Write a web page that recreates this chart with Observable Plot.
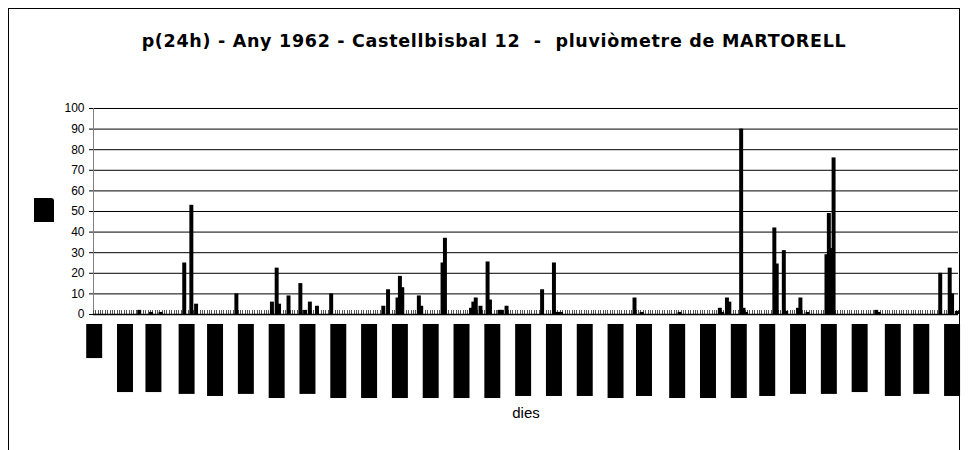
<!DOCTYPE html>
<html>
<head>
<meta charset="utf-8">
<script src="https://cdn.jsdelivr.net/npm/d3@7"></script>
<script src="https://cdn.jsdelivr.net/npm/@observablehq/plot@0.6"></script>
<style>
  html, body { margin: 0; padding: 0; background: #fff; overflow: hidden; }
  #wrap { position: relative; width: 968px; height: 450px; }
  #frame { position: absolute; left: 8px; top: 8px; width: 952px; height: 500px; border: 1px solid #000; box-sizing: border-box; }
  #title { position: relative; height: 70px; box-sizing: border-box; padding-top: 31px; text-align: center; font-family: "DejaVu Sans", sans-serif; font-weight: bold; font-size: 17.5px; letter-spacing: 0.7px; line-height: 20px; color: #000; padding-left: 20px; }
  #ylab { position: absolute; left: 34px; top: 198px; width: 20px; height: 24px; background: #000; border-top-right-radius: 3px; }
  #chart { position: relative; }
</style>
</head>
<body>
<div id="wrap">
  <div id="frame"></div>
  <div id="title">p(24h) - Any 1962 - Castellbisbal 12&nbsp; -&nbsp; pluviòmetre de MARTORELL</div>
  <div id="chart"></div>
  <div id="ylab" aria-label="mm"></div>
</div>
<script>
// Daily precipitation (mm), 1962 — only rainy days listed, all other days are 0
const rainDays = [20, 25, 29, 39, 42, 44, 61, 76, 78, 79, 83, 88, 90, 92, 95, 101,
  123, 125, 129, 130, 131, 138, 139, 148, 149, 160, 161, 162, 164, 167, 168, 172, 173, 175,
  190, 195, 196, 197, 198, 229, 232, 248, 265, 266, 268, 269, 274, 275, 276,
  288, 289, 292, 293, 298, 299, 302, 310, 311, 312, 313, 331, 332, 358, 362, 363, 365];
const rainMm = [2, 1, 1, 25, 53, 5, 10, 6, 22.5, 5, 9, 15, 2, 6, 4, 10,
  4, 12, 8, 18.5, 13, 9, 4, 25, 37, 3, 6, 8, 4, 25.5, 7, 2, 2, 4,
  12, 25, 1, 1, 1, 8, 1, 1, 3, 1, 8, 6, 90, 3, 1,
  42, 24.5, 31, 1.5, 3, 8, 1, 29, 49, 32, 76, 2, 1, 20, 22.5, 10, 1.5];

// y-axis ticks
const yTicks = [0, 10, 20, 30, 40, 50, 60, 70, 80, 90, 100];

// x tick labels (rendered as solid blocks in the original): day position and extent below the axis
const labelDays = [1, 14, 26, 40, 52, 65, 78, 91, 104, 117, 130, 143, 156, 169, 182,
  195, 208, 221, 233, 247, 260, 273, 285, 298, 311, 324, 338, 350, 363];
const labelExtent = [21.4, 37.9, 37.9, 38.8, 39.8, 38.8, 40.8, 38.8, 40.8, 40.8, 40.8, 40.8, 40.8, 40.8, 39.8,
  39.8, 39.8, 40.8, 39.8, 40.8, 40.8, 40.8, 39.8, 38.8, 38.8, 37.9, 39.8, 38.8, 39.8];

const nDays = 365;
const rain = new Map(rainDays.map((d, i) => [d, rainMm[i]]));
const table = d3.range(1, nDays + 1).map(d => ({day: d, mm: rain.get(d) ?? 0}));
const labels = labelDays.map((d, i) => ({day: d, extent: labelExtent[i]}));

const chart = Plot.plot({
  width: 968,
  height: 380,
  marginLeft: 93,
  marginRight: 10,
  marginTop: 38,
  marginBottom: 49.5,
  x: {domain: [0, nDays], axis: null},
  y: {domain: [-42, 100], axis: null},
  style: {fontFamily: "'Liberation Sans', Arial, sans-serif", fontSize: "12px", color: "#000", background: "transparent"},
  marks: [
    Plot.ruleY(yTicks, {y: d => d, x1: 0, x2: nDays, stroke: "#000", strokeWidth: 1, insetLeft: -4}),
    Plot.text(yTicks, {x: 0, y: d => d, text: d => String(d), textAnchor: "end", dx: -9, fontSize: 12, fill: "#000"}),
    Plot.ruleX([0], {x: d => d, y1: 0, y2: 100, stroke: "#808080"}),
    Plot.ruleX(d3.range(0, nDays + 1), {x: d => d, y1: 0, y2: 2, stroke: "#555", shapeRendering: "crispEdges"}),
    Plot.rect(table.filter(d => d.mm > 0), {x1: d => d.day - 1, x2: d => d.day, y1: 0, y2: "mm", fill: "#000", insetLeft: -0.8, insetRight: -0.8}),
    Plot.ruleY([0], {y: d => d, x1: 0, x2: nDays, stroke: "#000", strokeWidth: 1.3}),
    Plot.rect(labels, {x1: d => d.day - 1, x2: d => d.day, y1: 0, y2: d => -d.extent, insetTop: 10, insetLeft: -6.8, insetRight: -6.8, fill: "#000"}),
    Plot.text(["dies"], {x: nDays / 2, frameAnchor: "bottom", dy: 17, text: d => d, fontSize: 15, fill: "#000"})
  ]
});
document.getElementById("chart").appendChild(chart);
</script>
</body>
</html>
